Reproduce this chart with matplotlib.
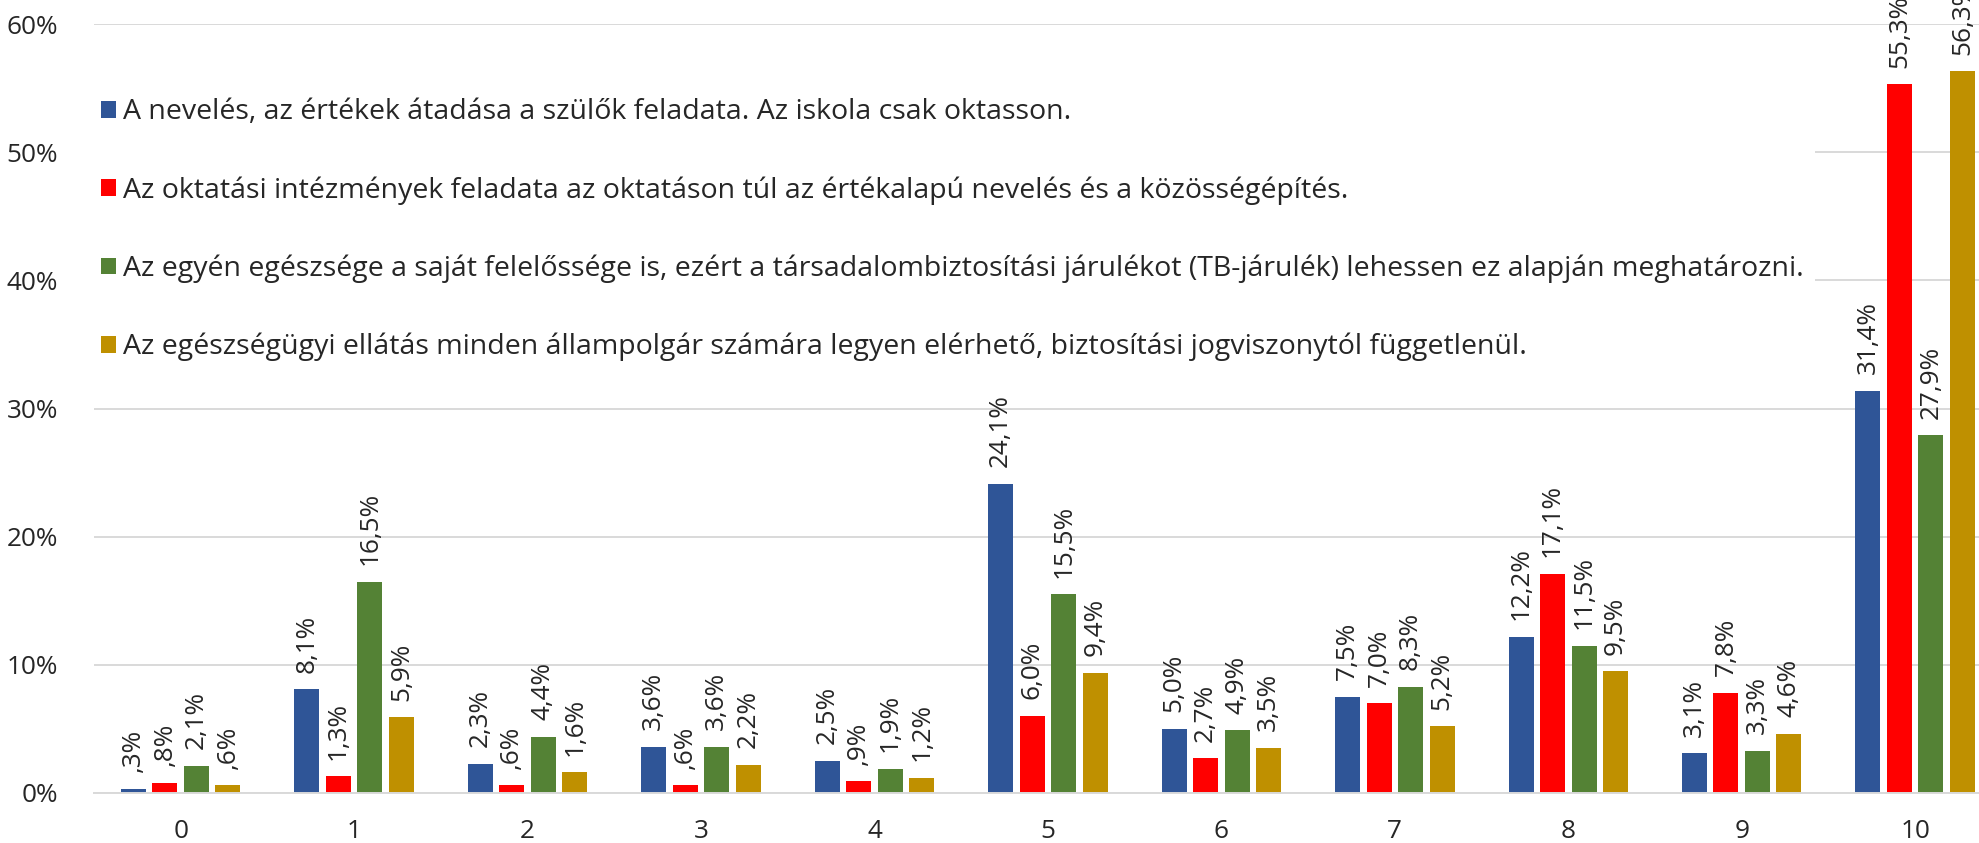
import numpy as np
import matplotlib
matplotlib.use('Agg')
import matplotlib.pyplot as plt

plt.rcParams['font.family'] = ['Open Sans', 'DejaVu Sans']

categories = ['0', '1', '2', '3', '4', '5', '6', '7', '8', '9', '10']
series_names = [
    'A nevelés, az értékek átadása a szülők feladata. Az iskola csak oktasson.',
    'Az oktatási intézmények feladata az oktatáson túl az értékalapú nevelés és a közösségépítés.',
    'Az egyén egészsége a saját felelőssége is, ezért a társadalombiztosítási járulékot (TB-járulék) lehessen ez alapján meghatározni.',
    'Az egészségügyi ellátás minden állampolgár számára legyen elérhető, biztosítási jogviszonytól függetlenül.',
]
nevelés_szulok = [0.3, 8.1, 2.3, 3.6, 2.5, 24.1, 5.0, 7.5, 12.2, 3.1, 31.4]
oktatasi_int = [0.8, 1.3, 0.6, 0.6, 0.9, 6.0, 2.7, 7.0, 17.1, 7.8, 55.3]
egyen_egeszseg = [2.1, 16.5, 4.4, 3.6, 1.9, 15.5, 4.9, 8.3, 11.5, 3.3, 27.9]
egeszsegugyi_ell = [0.6, 5.9, 1.6, 2.2, 1.2, 9.4, 3.5, 5.2, 9.5, 4.6, 56.3]
colors = ['#2F5597', '#FF0000', '#548235', '#BF9000']

txt_color = '#262626'
grid_color = '#D9D9D9'
fs = 18.8      # ticks, data labels
fs_leg = 20.5  # legend


def fmt(v):
    s = '{:.1f}'.format(v).replace('.', ',')
    if s.startswith('0,'):
        s = s[1:]
    return s + '%'


fig = plt.figure(figsize=(19.79, 8.43), dpi=100)
ax = fig.add_axes([94 / 1979, 50 / 843, 1 - 94 / 1979, 769 / 843])

x = np.arange(len(categories))
stride = 0.1816
width = 0.144
all_series = [nevelés_szulok, oktatasi_int, egyen_egeszseg, egeszsegugyi_ell]
for i, vals in enumerate(all_series):
    pos = x + (i - 1.5) * stride
    vals = np.array(vals) / 100
    bars = ax.bar(pos, vals, width, color=colors[i], label=series_names[i], zorder=2)
    for b, v in zip(bars, vals):
        ax.annotate(fmt(v * 100), (b.get_x() + b.get_width() / 2, v),
                    xytext=(0, 12), textcoords='offset points',
                    rotation=90, ha='center', va='bottom',
                    fontsize=fs, color=txt_color)

ax.set_xlim(-0.5, 10.368)
ax.set_ylim(0, 0.6)
ax.set_yticks(np.arange(0, 0.61, 0.1))
ax.set_yticklabels(['{:d}%'.format(int(round(t * 100))) for t in np.arange(0, 0.61, 0.1)])
ax.set_xticks(x)
ax.set_xticklabels(categories)
ax.tick_params(axis='both', length=0, labelsize=fs, colors=txt_color)
ax.tick_params(axis='y', pad=26)
ax.tick_params(axis='x', pad=19)

ax.yaxis.grid(True, color=grid_color, linewidth=1.4, zorder=0)
ax.set_axisbelow(True)
for side in ['top', 'right', 'left']:
    ax.spines[side].set_visible(False)
ax.spines['bottom'].set_color(grid_color)
ax.spines['bottom'].set_linewidth(1.4)

leg = ax.legend(loc='upper left', bbox_to_anchor=(89.5 / 1979, 1 - 87 / 843),
                bbox_transform=fig.transFigure, fontsize=fs_leg,
                handlelength=0.53, handleheight=0.53, handletextpad=0.25,
                labelspacing=1.75, borderpad=0.4, borderaxespad=0,
                frameon=True, fancybox=False, framealpha=1,
                edgecolor='none', facecolor='white')
for t in leg.get_texts():
    t.set_color(txt_color)
leg.set_zorder(1.5)

fig.savefig('out.png', dpi=100)
